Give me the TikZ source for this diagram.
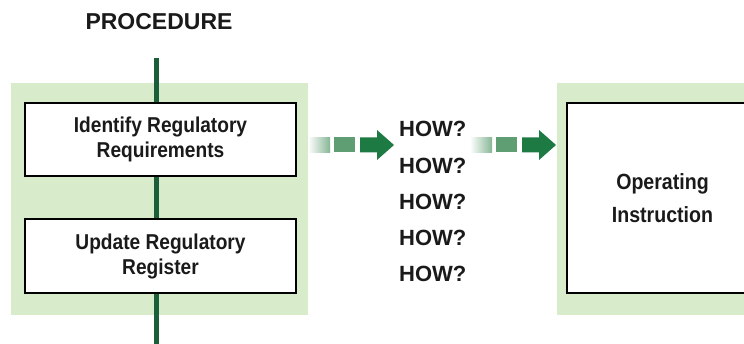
\documentclass[tikz,border=0pt]{standalone}
\usepackage{fontspec}
\setmainfont{Liberation Sans}
\newfontfamily\condfont[FakeStretch=0.89]{Liberation Sans}
\definecolor{panelgreen}{HTML}{D8EBCB}
\definecolor{linegreen}{HTML}{1B5E3A}
\definecolor{arrowgreen}{HTML}{1C7A42}
\definecolor{midgreen}{HTML}{5E9E72}
\definecolor{txt}{HTML}{1A1A1A}
\begin{document}
\begin{tikzpicture}[x=1pt,y=-1pt,
  panel/.style={fill=panelgreen},
  box/.style={draw=black, line width=1.5pt, fill=white, align=center, text=txt,
    font=\condfont\bfseries\fontsize{21.5}{25}\selectfont, inner sep=0pt},
  vline/.style={draw=linegreen, line width=5pt},
  how/.style={anchor=west, text=txt, font=\bfseries\fontsize{22}{24}\selectfont, inner sep=0pt},
  garrow/.pic={
    \shade[left color=white, right color=midgreen!75] (0,-7.5) rectangle (22,7.5);
    \fill[midgreen] (26,-7.5) rectangle (47,7.5);
    \fill[arrowgreen] (52,-7.5) -- (69,-7.5) -- (69,-15) -- (86,0) -- (69,15) -- (69,7.5) -- (52,7.5) -- cycle;
  }]
\useasboundingbox (0,0) rectangle (744,344);
\clip (0,0) rectangle (744,344);
\fill[white] (0,0) rectangle (744,344);
% panels
\fill[panel] (11,83) rectangle (308,315);
\fill[panel] (557,83) rectangle (770,315);
% title
\node[text=txt, font=\bfseries\fontsize{23}{26}\selectfont, inner sep=0pt] (title) at (159,22) {PROCEDURE};
% procedure line end points
\coordinate (top) at (156,58);
\coordinate (bot) at (156,344);
% procedure boxes (positions), line, then boxes on top
\path (160.5,139.5) coordinate (c1) (160.5,256) coordinate (c2);
\draw[vline] (top) -- (c1 -| top);
\draw[vline] (c1 -| top) -- (c2 -| top);
\draw[vline] (c2 -| top) -- (bot);
\node[box, minimum width=271pt, minimum height=73pt] (b1) at (c1) {Identify Regulatory\\Requirements};
\node[box, minimum width=271pt, minimum height=74pt] (b2) at (c2) {Update Regulatory\\Register};
% operating instruction
\node[box, minimum width=191pt, minimum height=190pt, font=\condfont\bfseries\fontsize{22}{33}\selectfont] (oi) at (662.5,198) {Operating\\Instruction};
% arrows
\coordinate (a1) at (308,145);
\coordinate (a2) at (470,145);
\pic at (a1) {garrow};
\pic at (a2) {garrow};
% HOW? labels
\node[how] (h1) at (399,129) {HOW?};
\node[how] (h2) at (399,166) {HOW?};
\node[how] (h3) at (399,202) {HOW?};
\node[how] (h4) at (399,238) {HOW?};
\node[how] (h5) at (399,274) {HOW?};
\end{tikzpicture}
\end{document}
